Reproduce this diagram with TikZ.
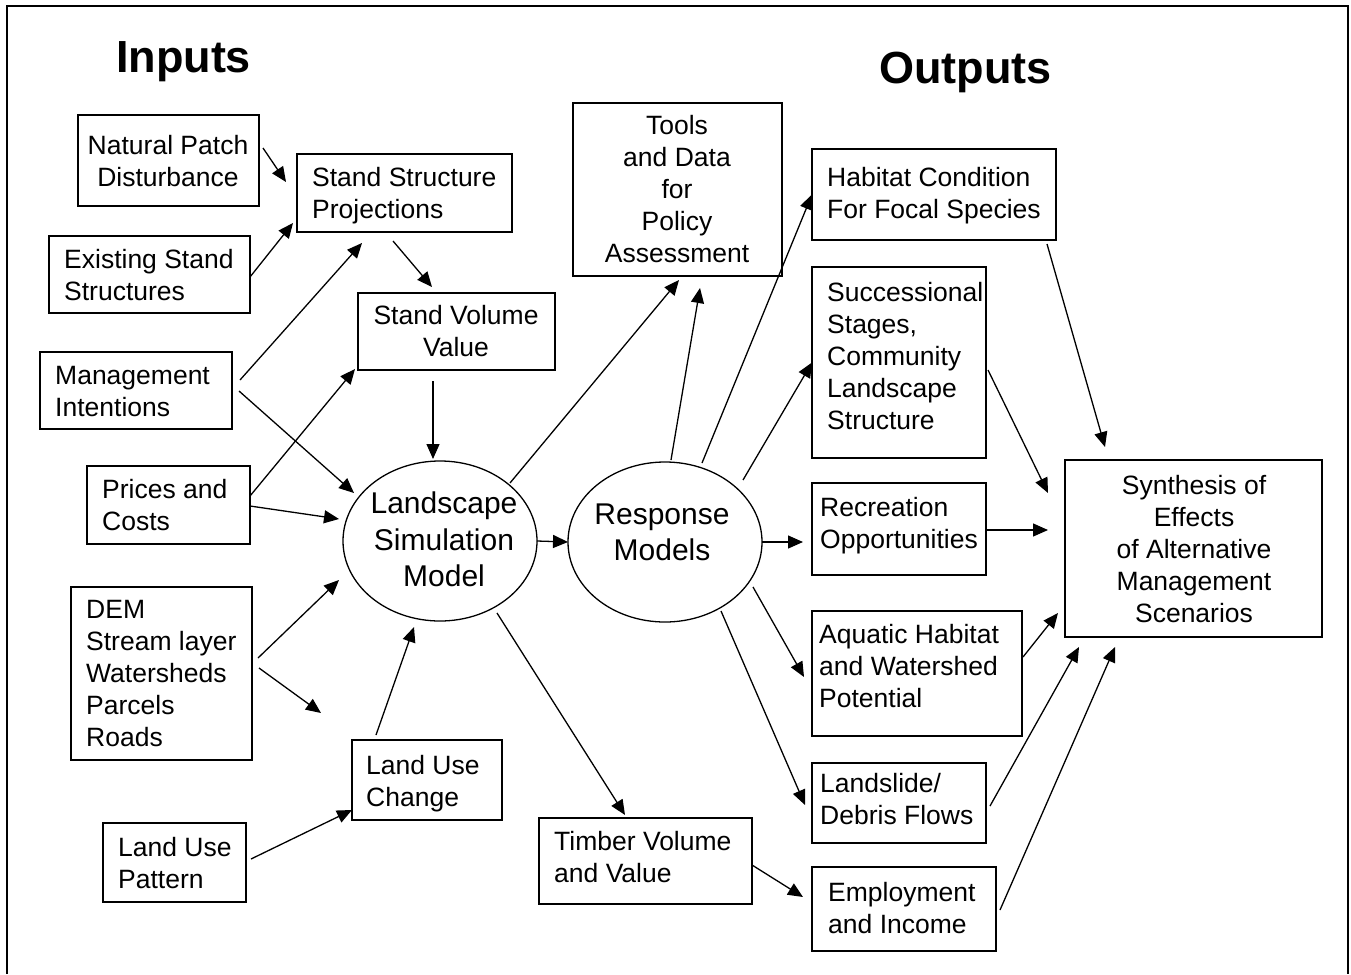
\documentclass[tikz,border=0pt]{standalone}
\usepackage{fontspec}
\setmainfont{Liberation Sans}
\usetikzlibrary{arrows.meta,shapes.geometric}
\begin{document}
\begin{tikzpicture}[x=1pt,y=1pt,
  box/.style={draw, line width=1.6pt, rectangle, inner sep=0pt, outer sep=0pt, anchor=north west},
  oval/.style={draw, ellipse, line width=1.3pt, inner sep=0pt, outer sep=0pt, minimum width=194pt, minimum height=160pt},
  txt/.style={inner sep=0pt, font=\fontsize{26.5}{32}\selectfont, align=left, anchor=west},
  ctxt/.style={inner sep=0pt, font=\fontsize{26.5}{32}\selectfont, align=center},
  otxt/.style={inner sep=0pt, font=\fontsize{30}{36.5}\selectfont, align=center},
  ttl/.style={inner sep=0pt, font=\fontsize{45}{54}\selectfont\bfseries, anchor=base},
  arr/.style={-{Triangle[length=15pt,width=13pt]}, line width=1.3pt},
]
\useasboundingbox (0,0) rectangle (1351,-974);
\fill[white] (0,0) rectangle (1351,-974);
\draw[line width=2pt] (6.5,-974) -- (6.5,-6.5) -- (1348,-6.5) -- (1348,-974);

% titles
\node[ttl] (tin) at (183.5,-73) {Inputs};
\node[ttl] (tout) at (965.5,-84) {Outputs};

% boxes
\node[box, minimum width=181pt, minimum height=91pt] (np) at (78,-115) {};
\node[box, minimum width=215pt, minimum height=78pt] (ssp) at (297,-154) {};
\node[box, minimum width=201pt, minimum height=77pt] (esr) at (49,-236) {};
\node[box, minimum width=197pt, minimum height=77pt] (svv) at (358,-293) {};
\node[box, minimum width=192pt, minimum height=77pt] (mgi) at (40,-352) {};
\node[box, minimum width=163pt, minimum height=78pt] (prc) at (87,-466) {};
\node[box, minimum width=181pt, minimum height=173pt] (dem) at (71,-587) {};
\node[box, minimum width=150pt, minimum height=80pt] (luc) at (352,-740) {};
\node[box, minimum width=143pt, minimum height=79pt] (lup) at (103,-823) {};
\node[box, minimum width=209pt, minimum height=173pt] (tools) at (573,-103) {};
\node[box, minimum width=244pt, minimum height=91pt] (hab) at (812,-149) {};
\node[box, minimum width=174pt, minimum height=191pt] (suc) at (812,-267) {};
\node[box, minimum width=174pt, minimum height=92pt] (rec) at (812,-483) {};
\node[box, minimum width=210pt, minimum height=125pt] (aqu) at (812,-611) {};
\node[box, minimum width=174pt, minimum height=80pt] (lds) at (812,-763) {};
\node[box, minimum width=213pt, minimum height=86pt] (tim) at (539,-818) {};
\node[box, minimum width=184pt, minimum height=84pt] (emp) at (812,-867) {};
\node[box, minimum width=257pt, minimum height=177pt] (syn) at (1065,-460) {};
\node[oval] (lsm) at (440,-541) {};
\node[oval] (rsp) at (665,-542) {};

% texts
\node[ctxt] (np-t) at (168,-161) {Natural Patch\\Disturbance};
\node[txt] (ssp-t) at (312,-196) {Stand Structure\\Projections};
\node[txt] (esr-t) at (64,-275) {Existing Stand\\Structures};
\node[ctxt] (svv-t) at (456,-331) {Stand Volume\\Value};
\node[txt] (mgi-t) at (55,-392) {Management\\Intentions};
\node[txt] (prc-t) at (102,-505) {Prices and\\Costs};
\node[txt] (dem-t) at (86,-673.5) {DEM\\Stream layer\\Watersheds\\Parcels\\Roads};
\node[txt] (luc-t) at (366,-784) {Land Use\\Change};
\node[txt] (lup-t) at (118,-863) {Land Use\\Pattern};
\node[ctxt] (tools-t) at (677,-189) {Tools\\and Data\\for\\Policy\\Assessment};
\node[txt] (hab-t) at (827,-196) {Habitat Condition\\For Focal Species};
\node[txt] (suc-t) at (827,-356) {Successional\\Stages,\\Community\\Landscape\\Structure};
\node[txt] (rec-t) at (820,-526) {Recreation\\Opportunities};
\node[txt] (aqu-t) at (819,-666) {Aquatic Habitat\\and Watershed\\Potential};
\node[txt] (lds-t) at (820,-799) {Landslide/\\Debris Flows};
\node[txt] (tim-t) at (554,-857) {Timber Volume\\and Value};
\node[txt] (emp-t) at (828,-908.5) {Employment\\and Income};
\node[ctxt] (syn-t) at (1194,-549) {Synthesis of\\Effects\\of Alternative\\Management\\Scenarios};
\node[otxt] (lsm-t) at (444,-539.5) {Landscape\\Simulation\\Model};
\node[otxt] (rsp-t) at (662,-532.5) {Response\\Models};

% connectors
\draw[arr] ([xshift=4pt,yshift=12.5pt]np.east) -- ([xshift=-11pt,yshift=11pt]ssp.west);
\draw[arr] ([yshift=-2.5pt]esr.east) -- ([xshift=-4pt,yshift=9pt]ssp.south west);
\draw[arr] ([xshift=8pt,yshift=10.5pt]mgi.east) -- ([xshift=65pt,yshift=-11pt]ssp.south west);
\draw[arr] ([xshift=-11.5pt,yshift=-9pt]ssp.south) -- ([xshift=-24.5pt,yshift=6pt]svv.north);
\draw[arr] ([xshift=7pt,yshift=-0.5pt]mgi.east) -- ([xshift=-86pt,yshift=48pt]lsm.center);
\draw[arr] ([yshift=9pt]prc.east) -- ([xshift=-3pt,yshift=1pt]svv.south west);
\draw[arr] ([yshift=-1pt]prc.east) -- ([xshift=-101pt,yshift=22pt]lsm.center);
\draw[arr] ([xshift=-23.5pt,yshift=-11pt]svv.south) -- ([xshift=-7pt,yshift=2pt]lsm.north);
\draw[arr] ([xshift=6pt,yshift=15.5pt]dem.east) -- ([xshift=-101pt,yshift=-39pt]lsm.center);
\draw[arr] ([xshift=7pt,yshift=5.5pt]dem.east) -- ([xshift=-31pt,yshift=27pt]luc.north west);
\draw[arr] ([xshift=5pt,yshift=3.5pt]lup.east) -- ([yshift=10pt]luc.south west);
\draw[arr] ([xshift=24pt,yshift=5pt]luc.north west) -- ([xshift=-26pt,yshift=-6pt]lsm.south);
\draw[arr] (lsm.east) -- (rsp.west);
\draw[arr] ([xshift=70pt,yshift=58pt]lsm.center) -- ([xshift=1.5pt,yshift=-4pt]tools.south);
\draw[arr] ([xshift=57pt,yshift=-72pt]lsm.center) -- ([xshift=-20.5pt,yshift=3pt]tim.north);
\draw[arr] ([xshift=6pt,yshift=2pt]rsp.north) -- ([xshift=22.5pt,yshift=-12pt]tools.south);
\draw[arr] ([xshift=37pt,yshift=79pt]rsp.center) -- (hab.west);
\draw[arr] ([xshift=78pt,yshift=62pt]rsp.center) -- (suc.west);
\draw[arr] (rsp.east) -- ([xshift=-9pt,yshift=-13pt]rec.west);
\draw[arr] ([xshift=88pt,yshift=-45pt]rsp.center) -- ([xshift=-8pt,yshift=-3.5pt]aqu.west);
\draw[arr] ([xshift=56pt,yshift=-69pt]rsp.center) -- ([xshift=-7pt,yshift=-2pt]lds.west);
\draw[arr] ([yshift=-4pt]tim.east) -- ([xshift=-9pt,yshift=12pt]emp.west);
\draw[arr] ([xshift=-9pt,yshift=-4pt]hab.south east) -- ([xshift=40pt,yshift=13pt]syn.north west);
\draw[arr] ([xshift=2pt,yshift=-7.5pt]suc.east) -- ([xshift=-17pt,yshift=-33pt]syn.north west);
\draw[arr] ([yshift=-1pt]rec.east) -- ([xshift=-17pt,yshift=18.5pt]syn.west);
\draw[arr] ([xshift=1pt,yshift=16.5pt]aqu.east) -- ([xshift=-7pt,yshift=24pt]syn.south west);
\draw[arr] ([xshift=4pt,yshift=-3pt]lds.east) -- ([xshift=14pt,yshift=-10pt]syn.south west);
\draw[arr] ([xshift=4pt,yshift=-1pt]emp.east) -- ([xshift=50pt,yshift=-10pt]syn.south west);
\end{tikzpicture}
\end{document}
